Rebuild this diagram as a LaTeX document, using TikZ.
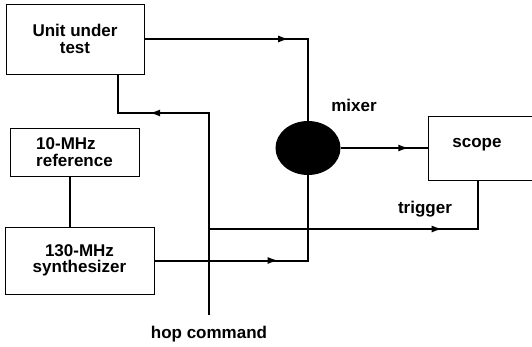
\documentclass[tikz,border=0pt]{standalone}
\usepackage{fontspec}
\setmainfont{Liberation Sans}
\usetikzlibrary{shapes.geometric, arrows.meta, positioning, decorations.markings}

\begin{document}
\begin{tikzpicture}[x=1pt,y=-1pt,
    block/.style={draw,line width=1pt,align=center,inner sep=0pt,font=\fontsize{17}{16.5}\selectfont\bfseries},
    lbl/.style={font=\fontsize{17}{16.5}\selectfont\bfseries,inner sep=0pt},
    wire/.style={line width=2pt},
    arrowat/.style={postaction={decorate},decoration={markings,mark=at position #1 with {\arrow{Latex[length=11pt,width=7pt]}}}}
  ]
    \clip (0,0) rectangle (532,346);
    \node[block, minimum width=138pt, minimum height=70pt] (uut) at (75,39) {Unit under\\test};
    \node[block, minimum width=129pt, minimum height=48pt, align=left] (ref) at (74.5,152) {10-MHz\\reference};
    \node[block, minimum width=149pt, minimum height=67pt] (synth) at (79.5,260.5) {130-MHz\\synthesizer};
    \node[ellipse, fill=black, minimum width=65pt, minimum height=54pt, inner sep=0pt] (mixer) at (308,148) {};
    \node[block, minimum width=112pt, minimum height=64pt] (scope) at (484,148) {};
    \node[lbl] at ([xshift=-7pt,yshift=3pt]scope.center) {scope};
    \node[lbl] at ([xshift=46pt,yshift=15pt]mixer.north) {mixer};

    \coordinate (hop) at (209,315);
    \coordinate (uutin) at ([xshift=43pt]uut.south);
    \coordinate (trig) at ([xshift=-6pt]scope.south);
    \node[lbl] at ([yshift=-19pt]hop) {hop command};

    \draw[wire, arrowat=0.59] (uut.east) -| (mixer.north);
    \draw[wire, arrowat=0.79] (mixer.east) -- (scope.west);
    \draw[wire, arrowat=0.52] (synth.east) -| (mixer.south);
    \draw[wire] ([xshift=-5pt]ref.south) -- ([xshift=-5pt]ref.south |- synth.north);
    \draw[wire, arrowat=0.79] (hop) -- (hop |- 0,113) -| (uutin);
    \draw[wire, arrowat=0.736] (hop |- 0,229) -| (trig);
    \node[lbl] at (425,209) {trigger};
  \end{tikzpicture}
\end{document}
